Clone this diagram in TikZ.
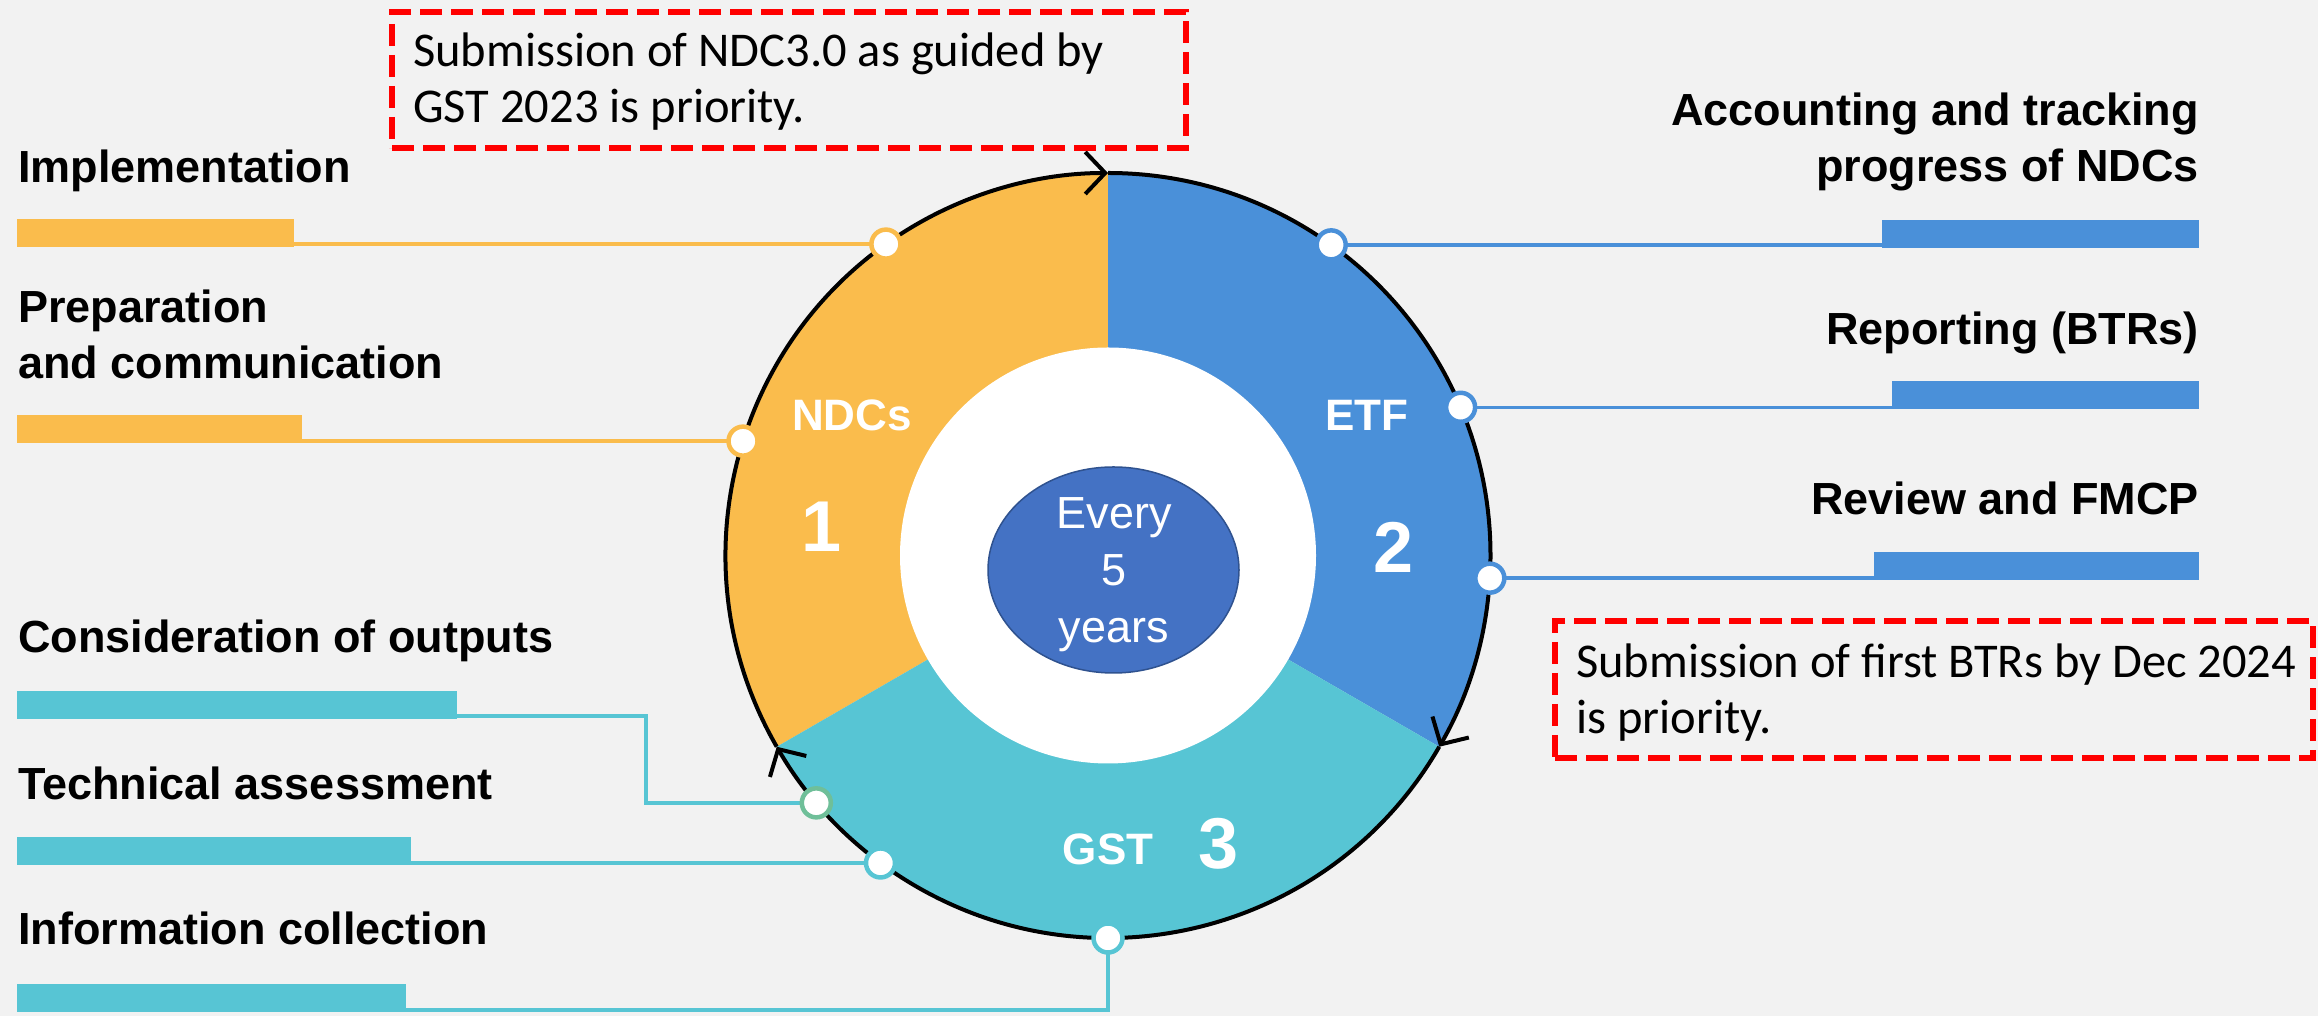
\documentclass[tikz,border=0pt]{standalone}
\usepackage{fontspec}
\setmainfont{Liberation Sans}
\newfontfamily\notefont{Carlito}
\usetikzlibrary{arrows.meta, positioning, shapes.geometric, calc}

\definecolor{bgrey}{HTML}{F2F2F2}
\definecolor{ndcorange}{HTML}{FABC4C}
\definecolor{etfblue}{HTML}{4A90D9}
\definecolor{gstteal}{HTML}{57C5D4}
\definecolor{yearblue}{HTML}{4472C4}
\definecolor{yearedge}{HTML}{2F528F}
\definecolor{dotgreen}{HTML}{6FBF99}

\begin{document}
\begin{tikzpicture}[
    x=1pt, y=1pt,
    bar/.style={minimum height=28pt, inner sep=0pt, draw=none},
    conn/.style={line width=3.5pt},
    dot/.style={circle, draw=#1, fill=white, line width=4.5pt,
                minimum size=29pt, inner sep=0pt},
    lbl/.style={font=\fontsize{45}{56}\selectfont\bfseries, inner sep=0pt},
    seg/.style={font=\fontsize{44}{50}\selectfont\bfseries, text=white,
                inner sep=0pt, anchor=base},
    num/.style={font=\fontsize{72}{80}\selectfont\bfseries, text=white,
                inner sep=0pt, anchor=base},
    notebox/.style={draw=red, line width=6pt, dash pattern=on 22pt off 9pt},
    note/.style={font=\notefont\fontsize{48.5}{56}\selectfont, align=left,
                 inner sep=0pt, anchor=base west},
    cyclearrow/.style={line width=4pt,
                       -{Straight Barb[length=20pt, width=42pt]}}
  ]
  \fill[bgrey] (0,0) rectangle (2318,1016);
  \useasboundingbox (0,0) rectangle (2318,1016);

  \coordinate (c) at (1108,460.5);
  % three stages of the cycle
  \foreach \a/\b/\col in {90/210/ndcorange, -30/90/etfblue, 210/330/gstteal} {
    \fill[\col] (c) -- ++(\a:382.5) arc[start angle=\a, end angle=\b, radius=382.5] -- cycle;
  }
  \fill[white] (c) circle[radius=208];
  \foreach \a/\b in {210/90, 90/-30, -30/-150} {
    \draw[cyclearrow] (c) ++(\a:382.5) arc[start angle=\a, end angle=\b, radius=382.5];
  }

  \node[ellipse, draw=yearedge, line width=1.5pt, fill=yearblue,
        minimum width=251pt, minimum height=206pt] (years) at (1113.5,446) {};
  \node[text=white, align=center, font=\fontsize{45}{57}\selectfont,
        inner sep=0pt] (yearstxt) at (1114,441) {Every\\5\\years};

  \node[seg] (ndclbl) at (852,585) {NDCs};
  \node[num] (ndcnum) at (822,464) {1};
  \node[seg] (etflbl) at (1367,585) {ETF};
  \node[num] (etfnum) at (1394,443) {2};
  \node[seg] (gstlbl) at (1108,151) {GST};
  \node[num] (gstnum) at (1219,147) {3};

  % points on the rim
  \foreach \n/\a in {impl/125.5, prep/162.6, acc/54.3, rep/22.8, rev/-3.4,
                     cons/220.3, tech/233.5, info/270} {
    \path (c) ++(\a:382.5) coordinate (d\n);
  }

  % bars on the left
  \foreach \n/\w/\y/\col in {impl/277/769/ndcorange, prep/285/573/ndcorange,
                             cons/440/297/gstteal, tech/394/151/gstteal,
                             info/389/4/gstteal} {
    \node[bar, fill=\col, minimum width=\w pt, anchor=south west] (bar\n) at (17,\y) {};
  }
  % bars on the right
  \foreach \n/\w/\y in {acc/317/768, rep/307/607, rev/325/436} {
    \node[bar, fill=etfblue, minimum width=\w pt, anchor=south east] (bar\n) at (2199,\y) {};
  }

  \draw[conn, ndcorange] (dimpl) -- (dimpl -| barimpl.east);
  \draw[conn, ndcorange] (dprep) -- (dprep -| barprep.east);
  \foreach \n in {acc, rep, rev} {
    \draw[conn, etfblue] (d\n) -- (d\n -| bar\n.west);
  }
  \coordinate (kcons) at (646,300);
  \draw[conn, gstteal] (dcons) -| (kcons) -- (kcons -| barcons.east);
  \draw[conn, gstteal] (dtech) -- (dtech -| bartech.east);
  \coordinate (kinfo) at (1108,6);
  \draw[conn, gstteal] (dinfo) -- (kinfo) -- (kinfo -| barinfo.east);

  \foreach \n/\col in {impl/ndcorange, prep/ndcorange, acc/etfblue, rep/etfblue,
                       rev/etfblue, cons/dotgreen, tech/gstteal, info/gstteal} {
    \node[dot=\col] (dot\n) at (d\n) {};
  }

  % labels (base sits on the last line)
  \node[lbl, anchor=base west, align=left] (implname) at (18,833) {Implementation};
  \node[lbl, anchor=base west, align=left] (prepname) at (18,637) {Preparation\\and communication};
  \node[lbl, anchor=base west, align=left] (consname) at (18,363) {Consideration of outputs};
  \node[lbl, anchor=base west, align=left] (techname) at (18,216) {Technical assessment};
  \node[lbl, anchor=base west, align=left] (infoname) at (18,71) {Information collection};
  \node[lbl, anchor=base east, align=right] (accname) at (2199,834) {Accounting and tracking\\progress of NDCs};
  \node[lbl, anchor=base east, align=right] (repname) at (2199,671) {Reporting (BTRs)};
  \node[lbl, anchor=base east, align=right] (revname) at (2199,501) {Review and FMCP};

  % priorities
  \node[notebox, minimum width=794pt, minimum height=136pt] (ndcbox) at (789,936) {};
  \node[note] (ndcnote) at (413,893) {Submission of NDC3.0 as guided by\\GST 2023 is priority.};
  \node[notebox, minimum width=758pt, minimum height=137pt] (btrbox) at (1934,326.5) {};
  \node[note] (btrnote) at (1576,282) {Submission of first BTRs by Dec 2024\\is priority.};
\end{tikzpicture}
\end{document}
